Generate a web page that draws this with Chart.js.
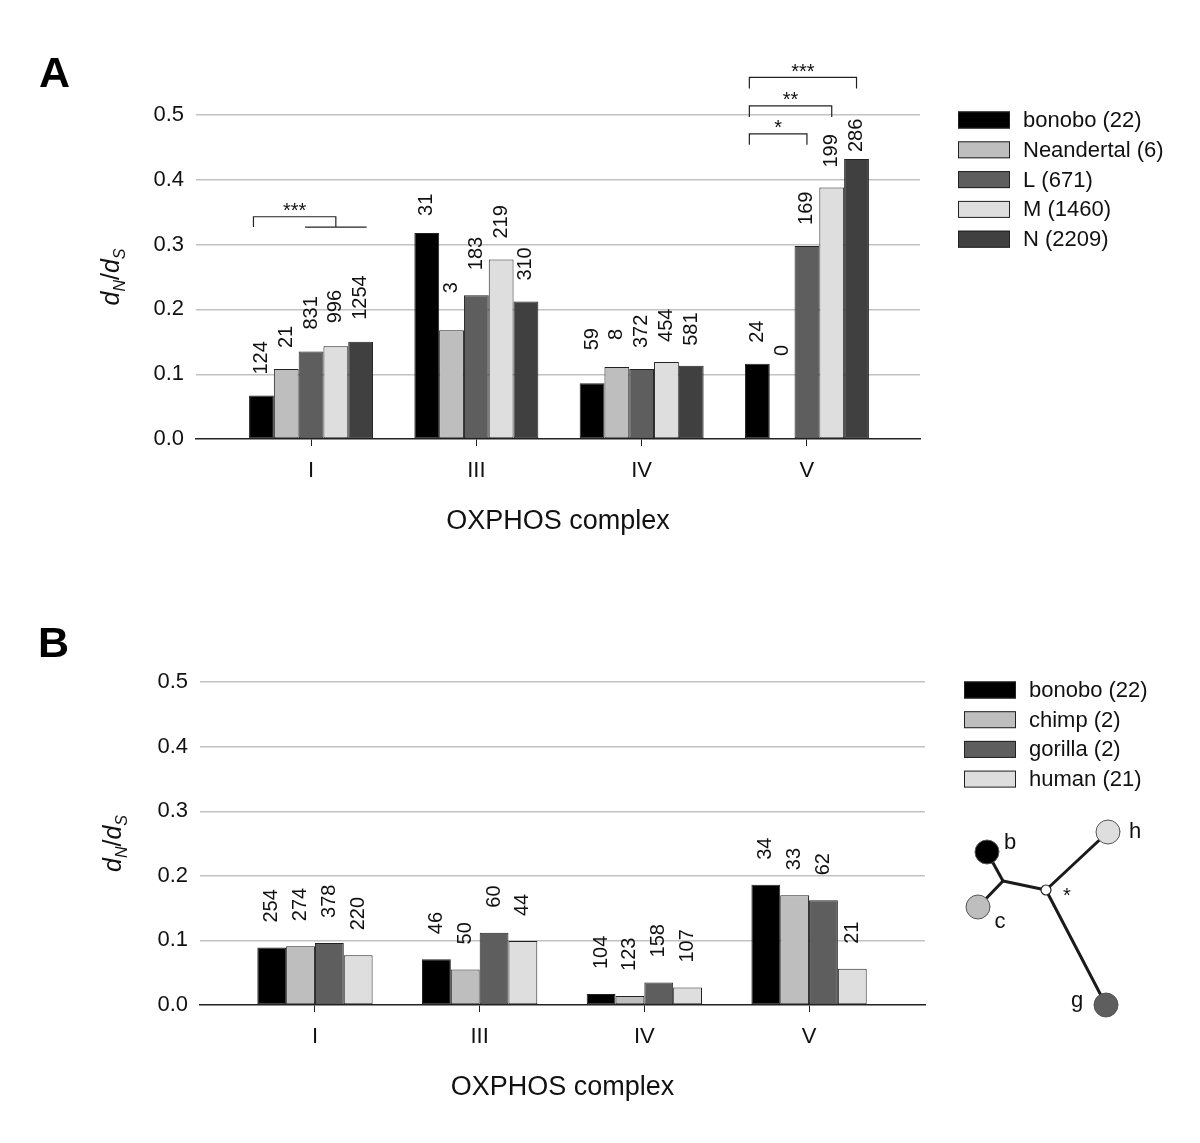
<!DOCTYPE html>
<html><head><meta charset="utf-8">
<script src="https://cdn.jsdelivr.net/npm/chart.js@4.4.0/dist/chart.umd.min.js"></script>
<style>html,body{margin:0;padding:0;background:#fff;width:1200px;height:1143px;overflow:hidden;} canvas{position:absolute;left:0;}</style>
</head><body>
<canvas id="cA" width="1200" height="570" style="top:0px"></canvas>
<canvas id="cB" width="1200" height="573" style="top:570px"></canvas>
<script>
// ---------- data ----------
const categories = ['I', 'III', 'IV', 'V'];
const yTicks = [0.0, 0.1, 0.2, 0.3, 0.4, 0.5];

// Panel A
const seriesNamesA = ['bonobo (22)', 'Neandertal (6)', 'L (671)', 'M (1460)', 'N (2209)'];
const bonoboA     = [0.067, 0.318, 0.086, 0.116];
const neandertalA = [0.108, 0.168, 0.111, null];
const lA          = [0.135, 0.222, 0.108, 0.298];
const mA          = [0.143, 0.277, 0.119, 0.388];
const nA          = [0.150, 0.212, 0.113, 0.432];
const countsBonoboA     = [124, 31, 59, 24];
const countsNeandertalA = [21, 3, 8, 0];
const countsLA          = [831, 183, 372, 169];
const countsMA          = [996, 219, 454, 199];
const countsNA          = [1254, 310, 581, 286];

// Panel B
const seriesNamesB = ['bonobo (22)', 'chimp (2)', 'gorilla (2)', 'human (21)'];
const bonoboB  = [0.089, 0.071, 0.017, 0.186];
const chimpB   = [0.091, 0.055, 0.014, 0.170];
const gorillaB = [0.096, 0.112, 0.035, 0.162];
const humanB   = [0.077, 0.099, 0.027, 0.056];
const countsBonoboB  = [254, 46, 104, 34];
const countsChimpB   = [274, 50, 123, 33];
const countsGorillaB = [378, 60, 158, 62];
const countsHumanB   = [220, 44, 107, 21];

// significance brackets (panel A): category index, bar indices, heights in d_N/d_S units
const sigCats   = [0, 3, 3, 3];
const sigFrom   = [0, 0, 0, 0];
const sigTo     = [3, 4, 3, 2];
const sigTop    = [0.343, 0.558, 0.514, 0.471];
const sigBottom = [0.327, 0.541, 0.497, 0.454];
const sigText   = ['***', '***', '**', '*'];

// ---------- styles ----------
const FONT = "'Liberation Sans', Arial, Helvetica, sans-serif";
const TXT = '#111111';
const coloursA = ['#000000', '#bebebe', '#5e5e5e', '#dedede', '#404040'];
const coloursB = ['#000000', '#bebebe', '#5e5e5e', '#dedede'];
// extra vertical nudge (px) of individual count labels in panel A  [series][category]
const nudgeA = [[0, -4, 12, 0], [0, 16, 6, 62], [1, 4, 0, 0], [2, 0, -1, -1], [1, 0, -1, -14]];

Chart.defaults.font.family = FONT;
Chart.defaults.color = TXT;

function toXY(arr) { return arr.map((v, i) => ({ x: i, y: v })); }

function makeDatasets(names, values, colours) {
  return names.map((n, i) => ({
    label: n, data: toXY(values[i]),
    backgroundColor: colours[i], borderColor: '#222222', borderWidth: 1,
    borderSkipped: false,
    categoryPercentage: colours.length === 5 ? 0.75 : 0.70, barPercentage: 1.0
  }));
}

function scalesFor(xmin, xmax) {
  return {
    x: {
      type: 'linear', min: xmin, max: xmax, offset: false,
      afterBuildTicks: s => { s.ticks = categories.map((c, i) => ({ value: i })); },
      ticks: { callback: v => categories[v], font: { size: 22, family: FONT }, color: TXT, padding: 12, maxRotation: 0, autoSkip: false },
      grid: { display: true, offset: false, drawOnChartArea: false, drawTicks: true, tickLength: 7, color: '#222', lineWidth: 1 },
      border: { display: true, color: '#222', width: 1.5 },
      afterFit: s => { s.height = 40; }
    },
    y: {
      min: 0, max: 0.5,
      afterBuildTicks: s => { s.ticks = yTicks.map(v => ({ value: v })); },
      ticks: { callback: v => Number(v).toFixed(1), font: { size: 22, family: FONT }, color: TXT, padding: 12 },
      grid: { color: c => (c.tick && c.tick.value === 0) ? 'rgba(0,0,0,0)' : '#c2c2c2', lineWidth: 1.4, drawTicks: false },
      border: { display: false },
      afterFit: s => { s.width = 60; }
    }
  };
}

function drawRotText(ctx, text, x, y, font) {
  ctx.save();
  ctx.translate(x, y);
  ctx.rotate(-Math.PI / 2);
  ctx.font = font;
  ctx.textAlign = 'left';
  ctx.textBaseline = 'middle';
  ctx.fillStyle = TXT;
  ctx.fillText(text, 0, 0);
  ctx.restore();
}

function drawYTitle(ctx, cx, cy) {
  const big = 'italic 25px ' + FONT, small = 'italic 16px ' + FONT, plain = '25px ' + FONT;
  const parts = [['d', big, 0], ['N', small, 6], ['/', plain, 0], ['d', big, 0], ['S', small, 6]];
  ctx.save();
  let w = 0;
  parts.forEach(p => { ctx.font = p[1]; w += ctx.measureText(p[0]).width; });
  ctx.translate(cx, cy);
  ctx.rotate(-Math.PI / 2);
  ctx.fillStyle = TXT;
  ctx.textBaseline = 'alphabetic';
  ctx.textAlign = 'left';
  let x = -w / 2;
  parts.forEach(p => { ctx.font = p[1]; ctx.fillText(p[0], x, 8 + p[2]); x += ctx.measureText(p[0]).width; });
  ctx.restore();
}

function drawLegend(ctx, names, colours, boxX, textX, y0, step) {
  ctx.save();
  names.forEach((n, i) => {
    const cy = y0 + i * step;
    ctx.fillStyle = colours[i];
    ctx.fillRect(boxX, cy - 8.5, 52, 17);
    ctx.strokeStyle = '#222'; ctx.lineWidth = 1;
    ctx.strokeRect(boxX + 0.5, cy - 8, 51, 16);
    ctx.fillStyle = TXT;
    ctx.font = '22px ' + FONT;
    ctx.textAlign = 'left'; ctx.textBaseline = 'middle';
    ctx.fillText(n, textX, cy + 1);
  });
  ctx.restore();
}

function countLabelsPlugin(counts, gap, nudge) {
  return {
    id: 'countLabels',
    afterDatasetsDraw(chart) {
      const ctx = chart.ctx, ys = chart.scales.y;
      counts.forEach((arr, si) => {
        const meta = chart.getDatasetMeta(si);
        arr.forEach((c, ci) => {
          const el = meta.data[ci];
          const v = chart.data.datasets[si].data[ci].y;
          const top = (v === null) ? ys.getPixelForValue(0) : ys.getPixelForValue(v);
          const extra = nudge ? nudge[si][ci] : 0;
          drawRotText(ctx, String(c), el.x, top - gap - extra, '20px ' + FONT);
        });
      });
    }
  };
}

// ---------- Panel A ----------
const valuesA = [bonoboA, neandertalA, lA, mA, nA];
const countsA = [countsBonoboA, countsNeandertalA, countsLA, countsMA, countsNA];

const decorA = {
  id: 'decorA',
  afterDraw(chart) {
    const ctx = chart.ctx, ca = chart.chartArea, ys = chart.scales.y;
    ctx.save();
    ctx.fillStyle = '#000'; ctx.font = 'bold 43px ' + FONT; ctx.textAlign = 'left'; ctx.textBaseline = 'alphabetic';
    ctx.fillText('A', 39, 87);
    drawYTitle(ctx, 111, (ca.top + ca.bottom) / 2);
    ctx.fillStyle = TXT; ctx.font = '27px ' + FONT; ctx.textAlign = 'center'; ctx.textBaseline = 'middle';
    ctx.fillText('OXPHOS complex', (ca.left + ca.right) / 2, ca.bottom + 83);
    ctx.strokeStyle = '#222'; ctx.lineWidth = 1.2;
    sigCats.forEach((cat, k) => {
      const x1 = chart.getDatasetMeta(sigFrom[k]).data[cat].x - 8;
      const x2 = chart.getDatasetMeta(sigTo[k]).data[cat].x;
      const yt = ys.getPixelForValue(sigTop[k]), yb = ys.getPixelForValue(sigBottom[k]);
      ctx.beginPath();
      ctx.moveTo(x1, yb); ctx.lineTo(x1, yt); ctx.lineTo(x2, yt); ctx.lineTo(x2, yb);
      ctx.stroke();
      if (cat === 0) {
        const xa = chart.getDatasetMeta(2).data[cat].x - 6;
        const xb = chart.getDatasetMeta(4).data[cat].x + 6;
        ctx.beginPath(); ctx.moveTo(xa, yb); ctx.lineTo(xb, yb); ctx.stroke();
      }
      ctx.fillStyle = TXT; ctx.font = '20px ' + FONT; ctx.textAlign = 'center'; ctx.textBaseline = 'middle';
      ctx.fillText(sigText[k], (x1 + x2) / 2, yt - 5);
    });
    drawLegend(ctx, seriesNamesA, coloursA, 958, 1023, 120, 29.8);
    ctx.restore();
  }
};

new Chart(document.getElementById('cA'), {
  type: 'bar',
  data: { datasets: makeDatasets(seriesNamesA, valuesA, coloursA) },
  options: {
    responsive: false, animation: false, devicePixelRatio: 1,
    layout: { padding: { left: 136, right: 280, top: 115, bottom: 91 } },
    plugins: { legend: { display: false }, tooltip: { enabled: false } },
    scales: scalesFor(-0.696, 3.684)
  },
  plugins: [countLabelsPlugin(countsA, 21, nudgeA), decorA]
});

// ---------- Panel B ----------
const valuesB = [bonoboB, chimpB, gorillaB, humanB];
const countsB = [countsBonoboB, countsChimpB, countsGorillaB, countsHumanB];

const decorB = {
  id: 'decorB',
  afterDraw(chart) {
    const ctx = chart.ctx, ca = chart.chartArea;
    ctx.save();
    ctx.fillStyle = '#000'; ctx.font = 'bold 43px ' + FONT; ctx.textAlign = 'left'; ctx.textBaseline = 'alphabetic';
    ctx.fillText('B', 38, 87);
    drawYTitle(ctx, 113, (ca.top + ca.bottom) / 2);
    ctx.fillStyle = TXT; ctx.font = '27px ' + FONT; ctx.textAlign = 'center'; ctx.textBaseline = 'middle';
    ctx.fillText('OXPHOS complex', (ca.left + ca.right) / 2, ca.bottom + 83);
    drawLegend(ctx, seriesNamesB, coloursB, 964, 1029, 120, 29.7);

    const o = 570;
    const P = { b: [987, 852 - o], c: [978, 907 - o], h: [1108, 832 - o], g: [1106, 1005 - o], n1: [1003, 881 - o], n0: [1046, 890 - o] };
    ctx.strokeStyle = '#1a1a1a'; ctx.lineWidth = 3; ctx.lineCap = 'round';
    const seg = (a, b) => { ctx.beginPath(); ctx.moveTo(a[0], a[1]); ctx.lineTo(b[0], b[1]); ctx.stroke(); };
    seg(P.b, P.n1); seg(P.c, P.n1); seg(P.n1, P.n0); seg(P.n0, P.h); seg(P.n0, P.g);
    const node = (p, fill) => {
      ctx.beginPath(); ctx.arc(p[0], p[1], 12, 0, Math.PI * 2);
      ctx.fillStyle = fill; ctx.fill();
      ctx.lineWidth = 1; ctx.strokeStyle = '#555'; ctx.stroke();
    };
    node(P.b, '#000000'); node(P.c, '#bebebe'); node(P.h, '#dedede'); node(P.g, '#5e5e5e');
    ctx.beginPath(); ctx.arc(P.n0[0], P.n0[1], 5, 0, Math.PI * 2);
    ctx.fillStyle = '#fff'; ctx.fill(); ctx.lineWidth = 1.2; ctx.strokeStyle = '#222'; ctx.stroke();
    ctx.fillStyle = TXT; ctx.textAlign = 'center'; ctx.textBaseline = 'middle';
    ctx.font = '20px ' + FONT; ctx.fillText('*', 1067, 896 - o);
    ctx.font = '22px ' + FONT;
    ctx.fillText('b', 1010, 843 - o);
    ctx.fillText('h', 1135, 832 - o);
    ctx.fillText('c', 1000, 922 - o);
    ctx.fillText('g', 1077, 1001 - o);
    ctx.restore();
  }
};

new Chart(document.getElementById('cB'), {
  type: 'bar',
  data: { datasets: makeDatasets(seriesNamesB, valuesB, coloursB) },
  options: {
    responsive: false, animation: false, devicePixelRatio: 1,
    layout: { padding: { left: 140, right: 275, top: 112, bottom: 98 } },
    plugins: { legend: { display: false }, tooltip: { enabled: false } },
    scales: scalesFor(-0.698, 3.704)
  },
  plugins: [countLabelsPlugin(countsB, 25, null), decorB]
});
</script>
</body></html>
